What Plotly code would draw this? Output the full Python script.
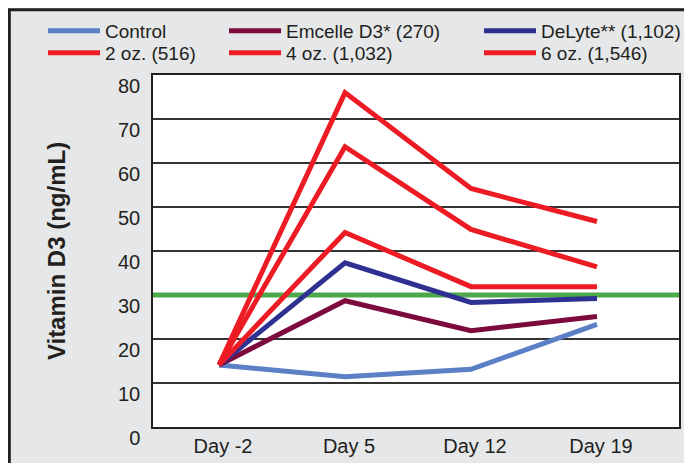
import plotly.graph_objects as go

# ---------------- data ----------------
days = ["Day -2", "Day 5", "Day 12", "Day 19"]
series_names = ["Control", "Emcelle D3* (270)", "DeLyte** (1,102)",
                "2 oz. (516)", "4 oz. (1,032)", "6 oz. (1,546)"]
control = [14.1, 11.4, 13.1, 23.3]
emcelle = [14.1, 28.7, 21.9, 25.1]
delyte = [14.1, 37.3, 28.3, 29.2]
oz2 = [14.1, 44.2, 31.9, 31.9]
oz4 = [14.1, 63.7, 44.9, 36.4]
oz6 = [14.1, 76.0, 54.2, 46.7]
threshold = 30
y_ticks = [0, 10, 20, 30, 40, 50, 60, 70, 80]
grid_vals = [10, 20, 40, 50, 60, 70]

# ---------------- style ----------------
# the page adds an 8px body margin, so the figure is 684x455
W, H = 684, 455
L, R, T, B = 145, 671, 67, 419          # plot area in figure pixels
colors = ["#5b80c5", "#7d0a3c", "#2e3192", "#ed1c24", "#ed1c24", "#ed1c24"]
values = [control, emcelle, delyte, oz2, oz4, oz6]
# legend slots: (legend box x px, row center y px) in figure pixels
legend_pos = [(35, 23), (216, 23), (471, 23), (35, 45), (216, 45), (471, 45)]
dark = "#231f20"
font_fam = "Liberation Sans, Arial, sans-serif"

fig = go.Figure()
for i, (name, vals, col) in enumerate(zip(series_names, values, colors)):
    lg = "legend" if i == 0 else f"legend{i+1}"
    fig.add_trace(go.Scatter(
        x=days, y=vals, name=name, mode="lines",
        line=dict(color=col, width=5),
        legend=lg, hoverinfo="skip"))

leg_layout = {}
for i, (px, py) in enumerate(legend_pos):
    key = "legend" if i == 0 else f"legend{i+1}"
    leg_layout[key] = dict(
        x=px / W, y=1 - py / H, xanchor="left", yanchor="middle",
        bgcolor="rgba(0,0,0,0)", borderwidth=0,
        font=dict(family=font_fam, size=19, color=dark),
        itemwidth=52,
    )

fig.update_layout(
    width=W, height=H,
    margin=dict(l=0, r=0, t=0, b=0, pad=0, autoexpand=False),
    paper_bgcolor="#e6e7e8",
    plot_bgcolor="white",
    showlegend=True,
    **leg_layout,
)

# dark frame on the top and left edges of the panel
fig.add_shape(type="rect", xref="paper", yref="paper", layer="below",
              x0=1.3 / W, x1=1.3, y0=-0.3, y1=1 - 1.8 / H,
              fillcolor="rgba(0,0,0,0)", line=dict(color=dark, width=3))
# threshold line
fig.add_shape(type="line", xref="x domain", yref="y", layer="below",
              x0=0, x1=1, y0=threshold, y1=threshold,
              line=dict(color="#4ca84a", width=5))

fig.update_xaxes(
    type="category", range=[-0.524, 3.651], domain=[L / W, R / W],
    automargin=False,
    showgrid=False, showline=True, mirror=True, linecolor=dark, linewidth=1.5,
    ticks="", tickfont=dict(family=font_fam, size=20, color=dark),
    ticklabelstandoff=0, ticklabelshift=4, zeroline=False,
)
fig.update_yaxes(
    range=[0, 80], tickvals=y_ticks, domain=[1 - B / H, 1 - T / H],
    automargin=False,
    showgrid=False,
    minor=dict(tickvals=grid_vals, showgrid=True, gridcolor="#333333",
               gridwidth=1.5, ticks=""),
    showline=True, mirror=True, linecolor=dark, linewidth=1.5,
    ticks="", tickfont=dict(family=font_fam, size=20, color=dark),
    ticklabelstandoff=7, ticklabelshift=11, zeroline=False,
    title=dict(text="<b>Vitamin D3 (ng/mL)</b>", standoff=46,
               font=dict(family=font_fam, size=24, color=dark)),
)

fig.write_html("out.html")
